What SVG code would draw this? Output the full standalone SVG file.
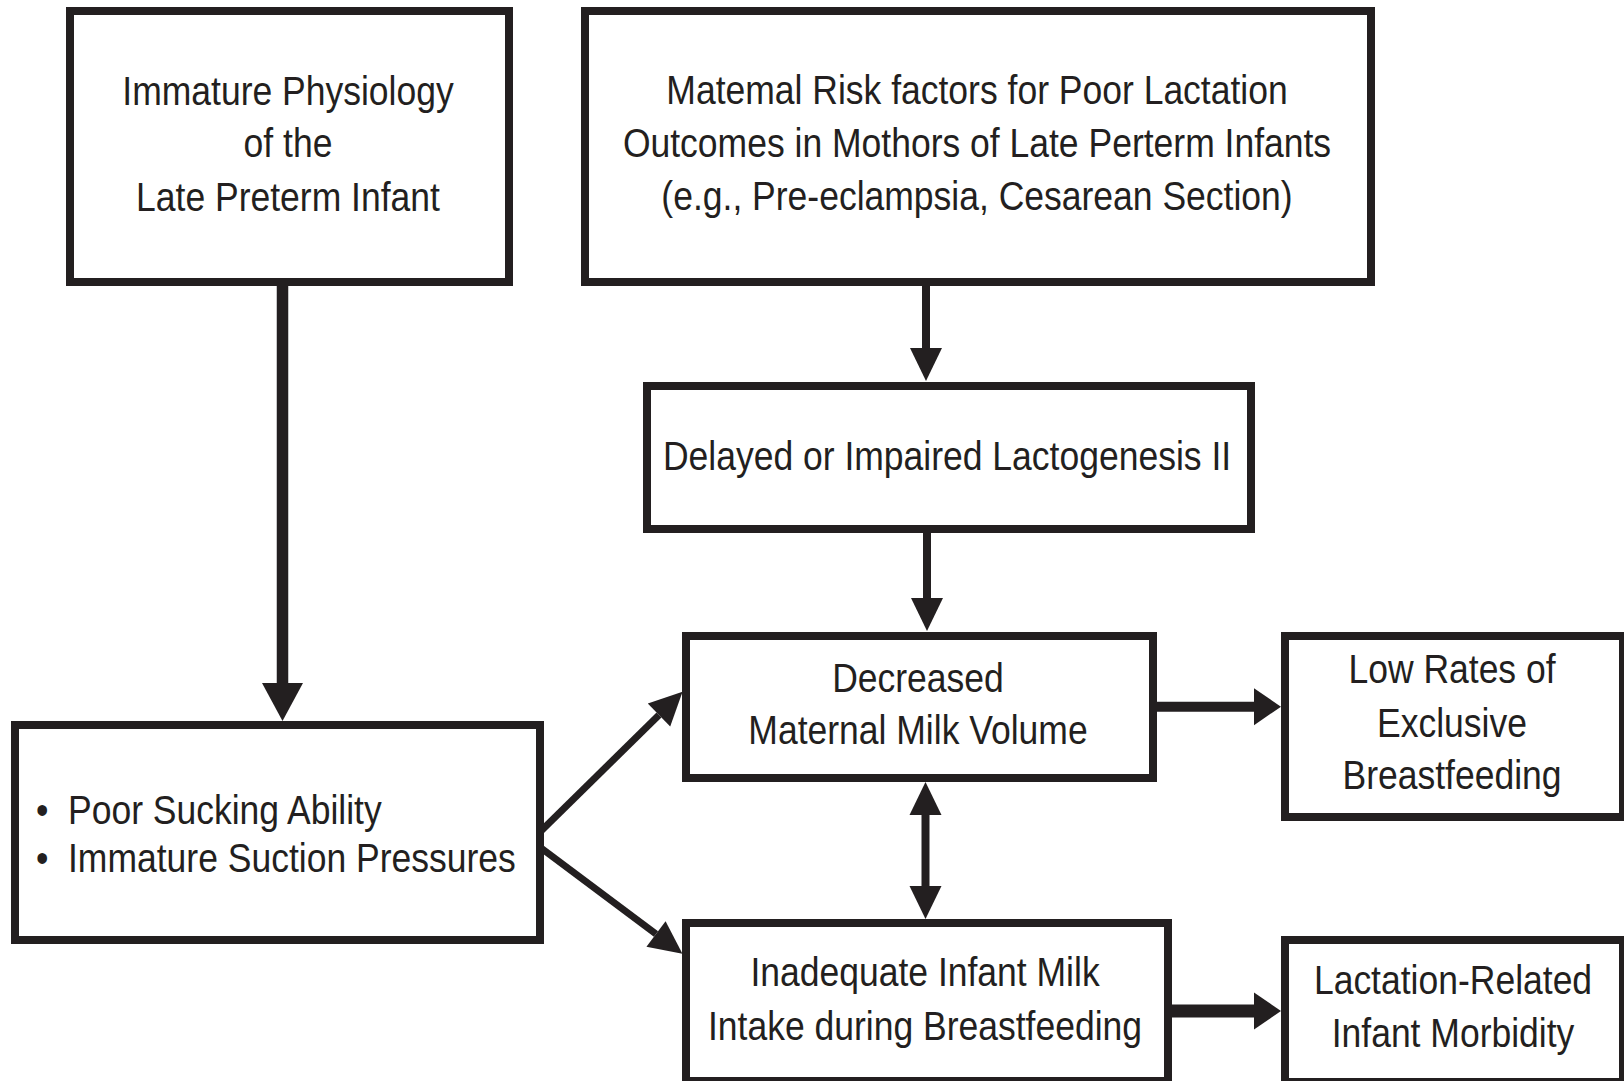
<svg xmlns="http://www.w3.org/2000/svg" width="1624" height="1081" viewBox="0 0 1624 1081">
<style>
.box{fill:#ffffff;stroke:#231f20;stroke-width:8}
.lbl{font-family:"Liberation Sans",Arial,sans-serif;font-size:35.5px;fill:#231f20;text-anchor:middle}
.lft{font-family:"Liberation Sans",Arial,sans-serif;font-size:35.5px;fill:#231f20}
.con{stroke:#231f20;fill:none;stroke-linecap:butt}
</style>
<defs>
<marker id="ah" markerUnits="userSpaceOnUse" markerWidth="33" markerHeight="32" refX="0" refY="16" orient="auto-start-reverse" overflow="visible">
<path d="M0,0 L33,16 L0,32 Z" fill="#231f20"/>
</marker>
<marker id="ahBig" markerUnits="userSpaceOnUse" markerWidth="38" markerHeight="41" refX="0" refY="20.5" orient="auto" overflow="visible">
<path d="M0,0 L38,20.5 L0,41 Z" fill="#231f20"/>
</marker>
<marker id="ahShort" markerUnits="userSpaceOnUse" markerWidth="27" markerHeight="37" refX="0" refY="18.5" orient="auto" overflow="visible">
<path d="M0,0 L27,18.5 L0,37 Z" fill="#231f20"/>
</marker>
</defs>
<rect x="0" y="0" width="1624" height="1081" fill="#ffffff"/>

<g id="connectors">
<line class="con" x1="282.5" y1="285" x2="282.5" y2="683" stroke-width="11.5" marker-end="url(#ahBig)"/>
<line class="con" x1="926" y1="285" x2="926" y2="348" stroke-width="8" marker-end="url(#ah)"/>
<line class="con" x1="927" y1="532" x2="927" y2="598" stroke-width="8" marker-end="url(#ah)"/>
<line class="con" x1="925.5" y1="815" x2="925.5" y2="886" stroke-width="8" marker-start="url(#ah)" marker-end="url(#ah)"/>
<line class="con" x1="1156" y1="706.7" x2="1254" y2="706.7" stroke-width="10" marker-end="url(#ahShort)"/>
<line class="con" x1="1171" y1="1011" x2="1254" y2="1011" stroke-width="13" marker-end="url(#ahShort)"/>
<line class="con" x1="541" y1="831" x2="659" y2="715" stroke-width="7" marker-end="url(#ah)"/>
<line class="con" x1="541" y1="848" x2="656" y2="934" stroke-width="7" marker-end="url(#ah)"/>
</g>

<g id="node-immature">
<rect class="box" x="70" y="11" width="439" height="271"/>
<text class="lbl" transform="translate(288,105) scale(1,1.16)">Immature Physiology</text>
<text class="lbl" transform="translate(288,157) scale(1,1.16)">of the</text>
<text class="lbl" transform="translate(288,211) scale(1,1.16)">Late Preterm Infant</text>
</g>

<g id="node-maternal">
<rect class="box" x="585" y="11" width="786" height="271"/>
<text class="lbl" transform="translate(977,103.5) scale(1,1.16)">Matemal Risk factors for Poor Lactation</text>
<text class="lbl" transform="translate(977,157) scale(1,1.16)">Outcomes in Mothors of Late Perterm Infants</text>
<text class="lbl" transform="translate(977,210) scale(1,1.16)">(e.g., Pre-eclampsia, Cesarean Section)</text>
</g>

<g id="node-delayed">
<rect class="box" x="647" y="386" width="604" height="143"/>
<text class="lbl" transform="translate(947,469.5) scale(1,1.16)">Delayed or Impaired Lactogenesis II</text>
</g>

<g id="node-decreased">
<rect class="box" x="686" y="636" width="467" height="142"/>
<text class="lbl" transform="translate(918,692) scale(1,1.16)">Decreased</text>
<text class="lbl" transform="translate(918,743.5) scale(1,1.16)">Maternal Milk Volume</text>
</g>

<g id="node-lowrates">
<rect class="box" x="1285" y="636" width="338" height="181"/>
<text class="lbl" transform="translate(1452,683) scale(1,1.16)">Low Rates of</text>
<text class="lbl" transform="translate(1452,736.5) scale(1,1.16)">Exclusive</text>
<text class="lbl" transform="translate(1452,789) scale(1,1.16)">Breastfeeding</text>
</g>

<g id="node-sucking">
<rect class="box" x="15" y="725" width="525" height="215"/>
<text class="lft" transform="translate(0,823.5) scale(1,1.16)"><tspan x="36">•</tspan><tspan x="68">Poor Sucking Ability</tspan></text>
<text class="lft" transform="translate(0,872) scale(1,1.16)"><tspan x="36">•</tspan><tspan x="68">Immature Suction Pressures</tspan></text>
</g>

<g id="node-inadequate">
<rect class="box" x="686" y="923" width="482" height="158"/>
<text class="lbl" transform="translate(925,986) scale(1,1.16)">Inadequate Infant Milk</text>
<text class="lbl" transform="translate(925,1039.5) scale(1,1.16)">Intake during Breastfeeding</text>
</g>

<g id="node-lactation">
<rect class="box" x="1285" y="940" width="338" height="142"/>
<text class="lbl" transform="translate(1453,994) scale(1,1.16)">Lactation-Related</text>
<text class="lbl" transform="translate(1453,1046.7) scale(1,1.16)">Infant Morbidity</text>
</g>
</svg>
